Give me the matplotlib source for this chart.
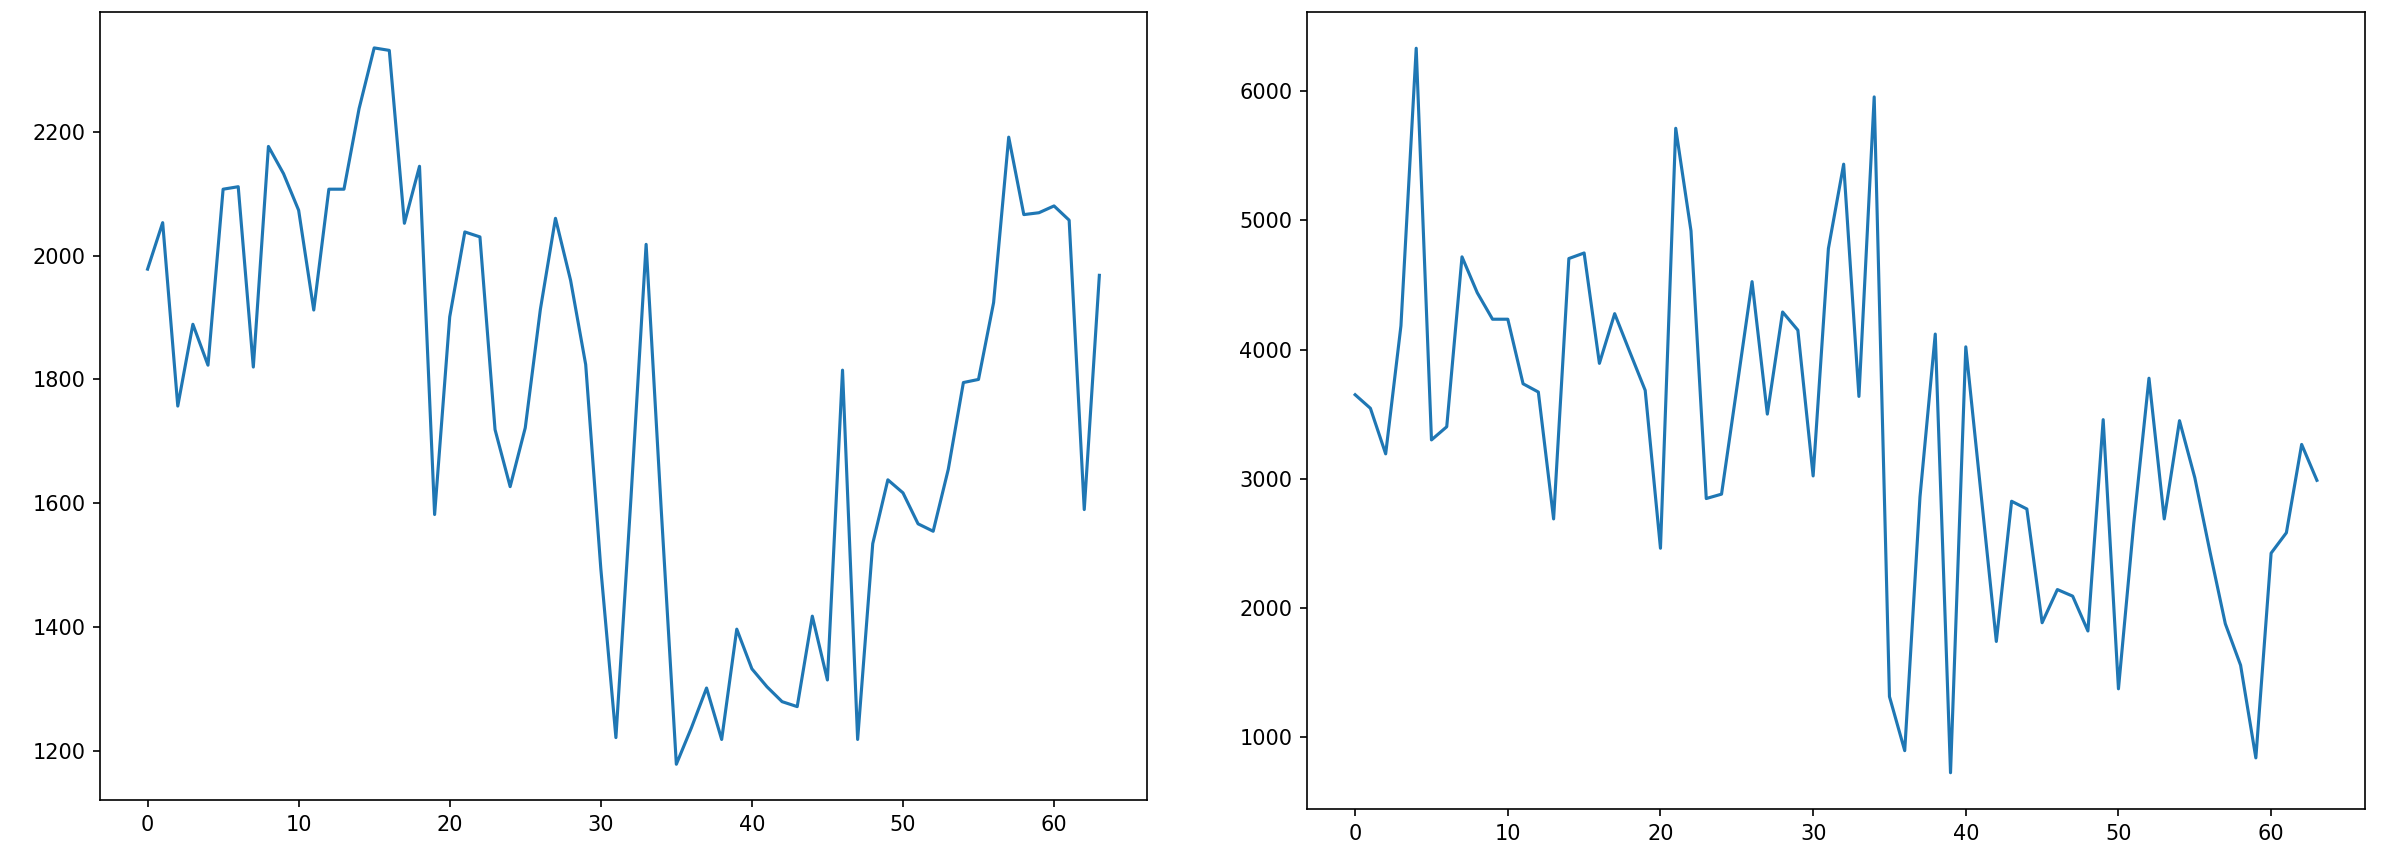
import numpy as np
import matplotlib
matplotlib.use("Agg")
import matplotlib.pyplot as plt

# values, index 0..63
left_vals = [1978, 2053, 1757, 1889, 1823, 2107, 2111, 1820, 2176, 2132,
             2073, 1912, 2107, 2107, 2237, 2335, 2331, 2052, 2144, 1582,
             1901, 2038, 2030, 1719, 1627, 1722, 1913, 2060, 1960, 1824,
             1495, 1222, 1610, 2018, 1590, 1179, 1238, 1302, 1219, 1397,
             1333, 1304, 1280, 1272, 1418, 1315, 1815, 1219, 1535, 1638,
             1617, 1567, 1555, 1655, 1795, 1800, 1924, 2191, 2066, 2069,
             2080, 2057, 1590, 1968]

right_vals = [3650, 3545, 3192, 4184, 6334, 3300, 3402, 4718, 4440, 4235,
              4235, 3735, 3671, 2688, 4705, 4748, 3893, 4278, 3979, 3684,
              2461, 5714, 4919, 2846, 2880, 3700, 4526, 3500, 4291, 4150,
              3021, 4782, 5436, 3637, 5957, 1312, 893, 2859, 4120, 722,
              4021, 2880, 1739, 2825, 2765, 1884, 2141, 2090, 1820, 3457,
              1372, 2650, 3778, 2688, 3449, 3008, 2431, 1876, 1555, 837,
              2423, 2581, 3265, 2987]

fig = plt.figure(figsize=(2386 / 150, 864 / 150), dpi=150)
ax1 = fig.add_axes([0.0419, 0.074, 0.4388, 0.912])
ax2 = fig.add_axes([0.5478, 0.0637, 0.4434, 0.9224])

ax1.plot(np.arange(len(left_vals)), left_vals)
ax2.plot(np.arange(len(right_vals)), right_vals)

ax1.set_xticks([0, 10, 20, 30, 40, 50, 60])
ax2.set_xticks([0, 10, 20, 30, 40, 50, 60])

fig.savefig("out.png", dpi=150)
